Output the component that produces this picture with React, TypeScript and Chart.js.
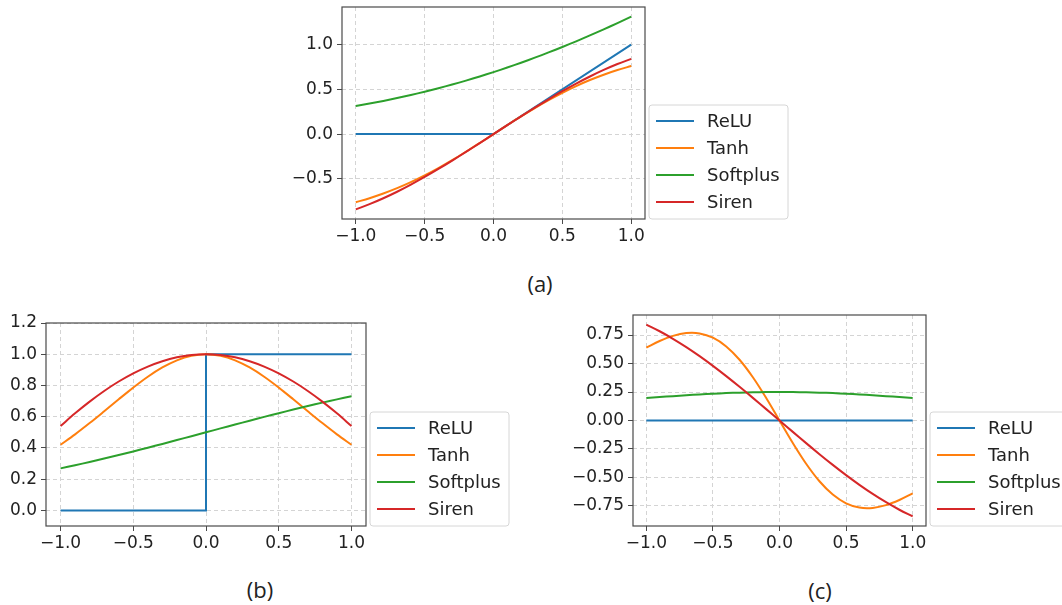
import React, { useEffect, useRef } from "react";
import { Chart, registerables } from "chart.js";

Chart.register(...registerables);

// ---------------- data ----------------
const xSamples = [-1, -0.9, -0.8, -0.7, -0.6, -0.5, -0.4, -0.3, -0.2, -0.1, 0, 0.1, 0.2, 0.3, 0.4, 0.5, 0.6, 0.7, 0.8, 0.9, 1];
const xTicks = [-1, -0.5, 0, 0.5, 1];

const seriesNames = ["ReLU", "Tanh", "Softplus", "Siren"];
const seriesColors = ["#1f77b4", "#ff7f0e", "#2ca02c", "#d62728"];

// (a) activation values
const reluXA = [-1, 0, 1];
const reluYA = [0, 0, 1];
const tanhA = [-0.7616, -0.7163, -0.664, -0.6044, -0.537, -0.4621, -0.3799, -0.2913, -0.1974, -0.0997, 0, 0.0997, 0.1974, 0.2913, 0.3799, 0.4621, 0.537, 0.6044, 0.664, 0.7163, 0.7616];
const softplusA = [0.3133, 0.3412, 0.3711, 0.4032, 0.4375, 0.4741, 0.513, 0.5544, 0.5981, 0.6444, 0.6931, 0.7444, 0.7981, 0.8544, 0.913, 0.9741, 1.0375, 1.1032, 1.1711, 1.2412, 1.3133];
const sirenA = [-0.8415, -0.7833, -0.7174, -0.6442, -0.5646, -0.4794, -0.3894, -0.2955, -0.1987, -0.0998, 0, 0.0998, 0.1987, 0.2955, 0.3894, 0.4794, 0.5646, 0.6442, 0.7174, 0.7833, 0.8415];
const yTicksA = [-0.5, 0, 0.5, 1.0];

// (b) first derivative
const reluXB = [-1, 0, 0, 1];
const reluYB = [0, 0, 1, 1];
const tanhB = [0.42, 0.4869, 0.5591, 0.6347, 0.7116, 0.7864, 0.8557, 0.9151, 0.961, 0.9901, 1, 0.9901, 0.961, 0.9151, 0.8557, 0.7864, 0.7116, 0.6347, 0.5591, 0.4869, 0.42];
const softplusB = [0.2689, 0.2891, 0.31, 0.3318, 0.3543, 0.3775, 0.4013, 0.4256, 0.4502, 0.475, 0.5, 0.525, 0.5498, 0.5744, 0.5987, 0.6225, 0.6457, 0.6682, 0.69, 0.7109, 0.7311];
const sirenB = [0.5403, 0.6216, 0.6967, 0.7648, 0.8253, 0.8776, 0.9211, 0.9553, 0.9801, 0.995, 1, 0.995, 0.9801, 0.9553, 0.9211, 0.8776, 0.8253, 0.7648, 0.6967, 0.6216, 0.5403];
const yTicksB = [0, 0.2, 0.4, 0.6, 0.8, 1.0, 1.2];

// (c) second derivative
const reluXC = [-1, 1];
const reluYC = [0, 0];
const tanhC = [0.6397, 0.6975, 0.7425, 0.7672, 0.7643, 0.7268, 0.6502, 0.5331, 0.3794, 0.1974, 0, -0.1974, -0.3794, -0.5331, -0.6502, -0.7268, -0.7643, -0.7672, -0.7425, -0.6975, -0.6397];
const softplusC = [0.1966, 0.2055, 0.2139, 0.2217, 0.2288, 0.235, 0.2403, 0.2445, 0.2475, 0.2494, 0.25, 0.2494, 0.2475, 0.2445, 0.2403, 0.235, 0.2288, 0.2217, 0.2139, 0.2055, 0.1966];
const sirenC = [0.8415, 0.7833, 0.7174, 0.6442, 0.5646, 0.4794, 0.3894, 0.2955, 0.1987, 0.0998, 0, -0.0998, -0.1987, -0.2955, -0.3894, -0.4794, -0.5646, -0.6442, -0.7174, -0.7833, -0.8415];
const yTicksC = [-0.75, -0.5, -0.25, 0, 0.25, 0.5, 0.75];

// ---------------- helpers ----------------
const FONT = "'DejaVu Sans', sans-serif";

function fmt(v: number, digits: number) {
  const s = Math.abs(v).toFixed(digits);
  return (v < -1e-9 ? "\u2212" : "") + s;
}

function makeDataset(i: number, xs: number[], ys: number[], smooth: boolean) {
  return {
    label: seriesNames[i],
    data: xs.map((x, k) => ({ x, y: ys[k] })),
    borderColor: seriesColors[i],
    backgroundColor: seriesColors[i],
    borderWidth: 2,
    pointRadius: 0,
    fill: false,
    tension: smooth ? 0.35 : 0,
    cubicInterpolationMode: "default",
    order: 4 - i,
  };
}

const framePlugin = {
  id: "frameLegend",
  afterDraw(chart: any) {
    const { ctx, chartArea } = chart;
    const { left, top, right, bottom } = chartArea;
    ctx.save();
    // axes frame
    ctx.strokeStyle = "#4a4a4a";
    ctx.lineWidth = 1.2;
    ctx.strokeRect(left, top, right - left, bottom - top);
    // legend
    const bx = right + 4;
    const bh = 114;
    const bw = 139;
    const by = bottom - bh;
    ctx.beginPath();
    if (ctx.roundRect) ctx.roundRect(bx, by, bw, bh, 3);
    else ctx.rect(bx, by, bw, bh);
    ctx.fillStyle = "rgba(255,255,255,0.85)";
    ctx.fill();
    ctx.strokeStyle = "#d6d6d6";
    ctx.lineWidth = 1;
    ctx.stroke();
    chart.data.datasets.forEach((ds: any, i: number) => {
      const y = by + 16 + 27 * i;
      ctx.beginPath();
      ctx.strokeStyle = ds.borderColor;
      ctx.lineWidth = 2;
      ctx.moveTo(bx + 7, y);
      ctx.lineTo(bx + 45, y);
      ctx.stroke();
      ctx.fillStyle = "#222";
      ctx.font = `18px ${FONT}`;
      ctx.textBaseline = "middle";
      ctx.textAlign = "left";
      ctx.fillText(ds.label, bx + 58, y + 1);
    });
    ctx.restore();
  },
};

type PanelSpec = {
  left: number;
  top: number;
  w: number;
  h: number;
  yAxisW: number;
  padTop: number;
  padRight: number;
  yMin: number;
  yMax: number;
  yTicks: number[];
  yDigits: number;
  datasets: any[];
};

function buildConfig(p: PanelSpec): any {
  const tickFont = { family: FONT, size: 17 };
  return {
    type: "line",
    data: { datasets: p.datasets },
    options: {
      animation: false,
      responsive: false,
      events: [],
      layout: { padding: { top: p.padTop, right: p.padRight, left: 0, bottom: 0 } },
      plugins: { legend: { display: false }, tooltip: { enabled: false }, title: { display: false } },
      scales: {
        x: {
          type: "linear",
          min: -1.1,
          max: 1.1,
          afterBuildTicks: (scale: any) => {
            scale.ticks = xTicks.map((v) => ({ value: v }));
          },
          afterFit: (scale: any) => {
            scale.height = 40;
          },
          ticks: {
            font: tickFont,
            color: "#222",
            padding: 2,
            maxRotation: 0,
            autoSkip: false,
            callback: (v: number) => fmt(v, 1),
          },
          grid: {
            color: "#d4d4d4",
            lineWidth: 1,
            tickLength: 5,
            tickColor: "#4a4a4a",
            tickWidth: 1,
          },
          border: { display: false, dash: [4, 3] },
        },
        y: {
          type: "linear",
          min: p.yMin,
          max: p.yMax,
          afterBuildTicks: (scale: any) => {
            scale.ticks = p.yTicks.map((v) => ({ value: v }));
          },
          afterFit: (scale: any) => {
            scale.width = p.yAxisW;
          },
          ticks: {
            font: tickFont,
            color: "#222",
            padding: 4,
            autoSkip: false,
            callback: (v: number) => fmt(v, p.yDigits),
          },
          grid: {
            color: "#d4d4d4",
            lineWidth: 1,
            tickLength: 5,
            tickColor: "#4a4a4a",
            tickWidth: 1,
          },
          border: { display: false, dash: [4, 3] },
        },
      },
    },
    plugins: [framePlugin],
  };
}

const panels: PanelSpec[] = [
  {
    left: 282, top: -8, w: 518, h: 267, yAxisW: 60, padTop: 15, padRight: 155,
    yMin: -0.949, yMax: 1.421, yTicks: yTicksA, yDigits: 1,
    datasets: [
      makeDataset(0, reluXA, reluYA, false),
      makeDataset(1, xSamples, tanhA, true),
      makeDataset(2, xSamples, softplusA, true),
      makeDataset(3, xSamples, sirenA, true),
    ],
  },
  {
    left: 0, top: 308, w: 520, h: 258, yAxisW: 46, padTop: 15, padRight: 154,
    yMin: -0.1, yMax: 1.2, yTicks: yTicksB, yDigits: 1,
    datasets: [
      makeDataset(0, reluXB, reluYB, false),
      makeDataset(1, xSamples, tanhB, true),
      makeDataset(2, xSamples, softplusB, true),
      makeDataset(3, xSamples, sirenB, true),
    ],
  },
  {
    left: 563, top: 300, w: 499, h: 266, yAxisW: 70, padTop: 15, padRight: 136,
    yMin: -0.926, yMax: 0.926, yTicks: yTicksC, yDigits: 2,
    datasets: [
      makeDataset(0, reluXC, reluYC, false),
      makeDataset(1, xSamples, tanhC, true),
      makeDataset(2, xSamples, softplusC, true),
      makeDataset(3, xSamples, sirenC, true),
    ],
  },
];

const captions = [
  { text: "(a)", cx: 540, cy: 283 },
  { text: "(b)", cx: 260, cy: 589 },
  { text: "(c)", cx: 820, cy: 590 },
];

function Panel({ p }: { p: PanelSpec }) {
  const ref = useRef<HTMLCanvasElement>(null);
  useEffect(() => {
    const chart = new Chart(ref.current as HTMLCanvasElement, buildConfig(p));
    return () => chart.destroy();
  }, [p]);
  return (
    <canvas
      ref={ref}
      width={p.w}
      height={p.h}
      style={{ position: "absolute", left: p.left, top: p.top, width: p.w, height: p.h }}
    />
  );
}

export default function App() {
  return (
    <div
      style={{
        position: "absolute",
        left: 0,
        top: 0,
        width: 1062,
        height: 605,
        overflow: "hidden",
        background: "#fff",
      }}
    >
      {panels.map((p, i) => (
        <Panel key={i} p={p} />
      ))}
      {captions.map((c, i) => (
        <div
          key={"c" + i}
          style={{
            position: "absolute",
            left: c.cx - 50,
            top: c.cy - 15,
            width: 100,
            height: 30,
            lineHeight: "30px",
            textAlign: "center",
            fontFamily: "'Open Sans', sans-serif",
            fontSize: 22,
            color: "#222",
          }}
        >
          {c.text}
        </div>
      ))}
    </div>
  );
}
